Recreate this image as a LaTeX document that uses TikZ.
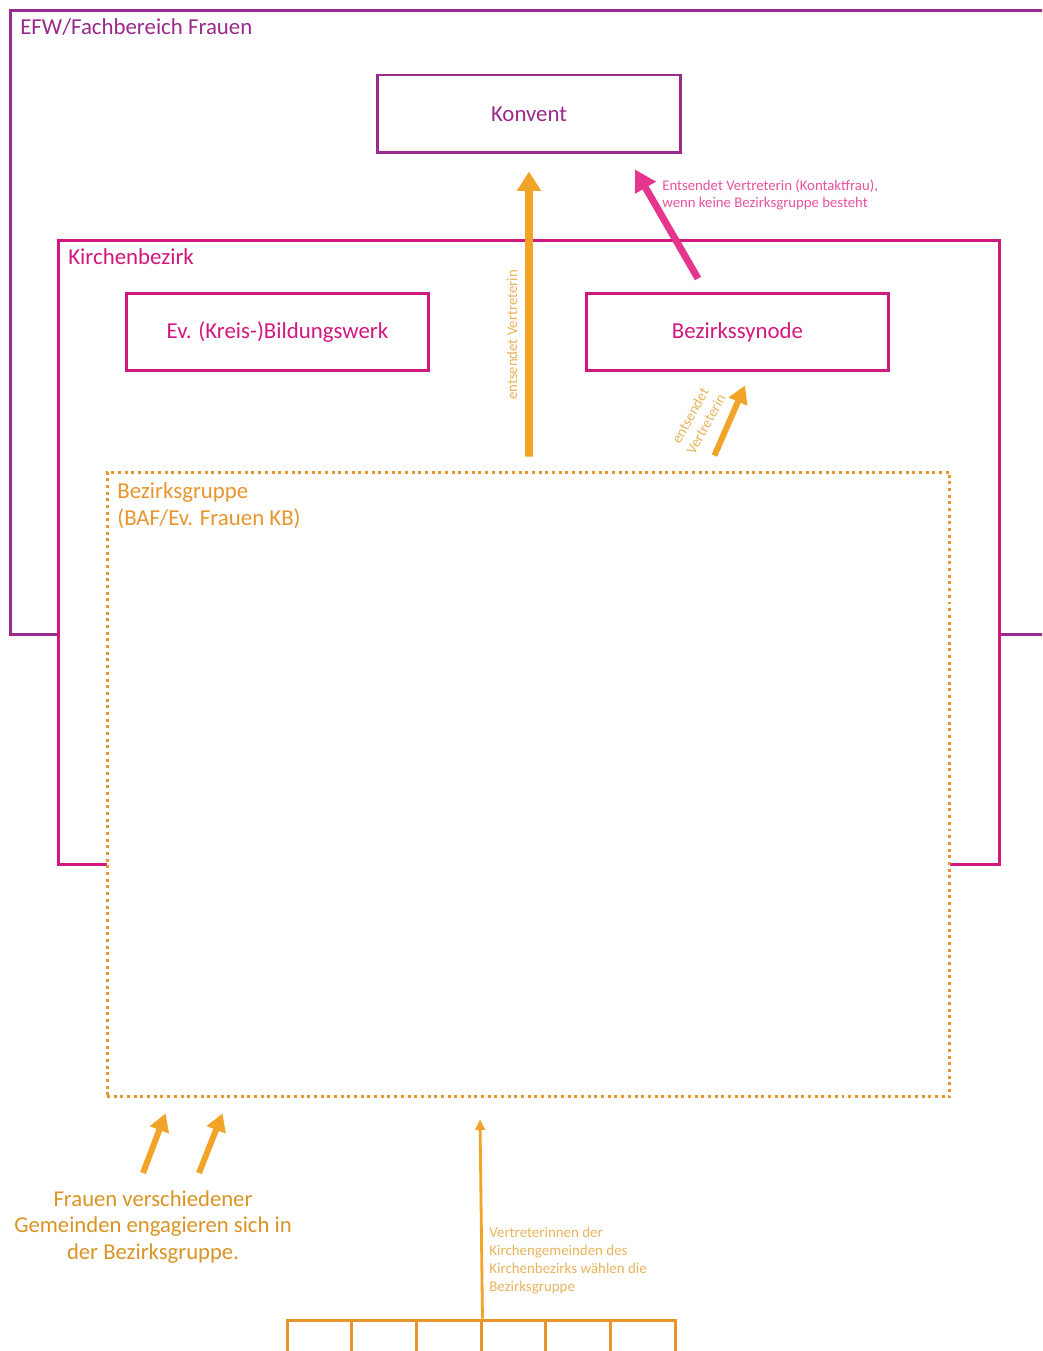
\documentclass[tikz,border=0pt]{standalone}
\usepackage{fontspec}
\setmainfont{Carlito}
\usetikzlibrary{arrows.meta,positioning,calc}
\definecolor{efwpurple}{HTML}{9A2A8C}
\definecolor{kbmagenta}{HTML}{D2177F}
\definecolor{sendpink}{HTML}{E5358C}
\definecolor{grouporange}{HTML}{E8952E}
\definecolor{arroworange}{HTML}{F2A428}
\definecolor{notetan}{HTML}{E9B45E}
\tikzset{
  frame/.style={draw, line width=1.7pt, fill=white, inner sep=0pt, minimum height=12.5cm},
  orgbox/.style={draw, line width=1.7pt, fill=white, minimum width=6.06cm,
    minimum height=1.56cm, font=\fontsize{13}{15}\selectfont},
  framelabel/.style={anchor=base west, inner sep=0pt, font=\fontsize{13}{15}\selectfont},
  note/.style={inner sep=0pt, align=left, font=\fontsize{8.4}{9.6}\selectfont},
  parish/.style={draw=grouporange, line width=1.7pt, minimum width=1.293cm, minimum height=1.6cm, inner sep=0pt},
  bigarr/.style={-{Triangle[length=11pt, width=13pt]}, line width=4.5pt, draw=arroworange},
  pinkarr/.style={-{Triangle[length=12pt, width=13pt]}, line width=4pt, draw=sendpink},
  midarr/.style={-{Triangle[length=10pt, width=11pt]}, line width=3.4pt, draw=arroworange},
  thinarr/.style={-{Triangle[length=6pt, width=5.5pt]}, line width=1.6pt, draw=arroworange}
}
\begin{document}
\begin{tikzpicture}[x=0.02cm, y=-0.02cm]
  \useasboundingbox (0,0) rectangle (1042,1351);
  \clip (0,0) rectangle (1042,1351);
  \fill[white] (0,0) rectangle (1042,1351);

  % EFW frame and Konvent
  \node[frame, draw=efwpurple, minimum width=21cm] (efw) at (535,322.5) {};
  \node[framelabel, text=efwpurple] (efwlabel) at (20,35) {EFW/Fachbereich Frauen};
  \node[orgbox, draw=efwpurple, text=efwpurple] (konvent) at (529,114) {Konvent};

  % Kirchenbezirk
  \node[frame, draw=kbmagenta, minimum width=18.84cm] (kb) at (529,552.5) {};
  \node[framelabel, text=kbmagenta] (kblabel) at (68,265) {Kirchenbezirk};
  \node[orgbox, draw=kbmagenta, text=kbmagenta] (bildung) at (277.5,332) {Ev. (Kreis-)Bildungswerk};
  \node[orgbox, draw=kbmagenta, text=kbmagenta] (synode) at (737.5,332) {Bezirkssynode};

  % Bezirksgruppe
  \node[frame, draw=grouporange, minimum width=16.86cm, dash pattern=on 1.7pt off 2.1pt] (grp) at (528.5,784.5) {};
  \node[framelabel, text=grouporange] (grplabel) at (117,498) {Bezirksgruppe};
  \node[framelabel, text=grouporange] (grplabelb) at (117,525) {(BAF/Ev. Frauen KB)};

  % Kirchengemeinden
  \foreach \i in {1,...,6}
    \node[parish] (p\i) at ({287+64.67*(\i-0.5)},1360) {};

  % connectors
  \draw[bigarr] ($(grp.north)+(0.5,-14)$) -- ($(konvent.south)+(0,17)$);
  \node[note, rotate=90, text=notetan] (sendnote) at (512,335) {entsendet Vertreterin};

  \draw[pinkarr] ($(synode.north)+(-39.5,-13)$) -- ($(konvent.south east)+(-47,15)$);
  \node[note, anchor=north west, text=sendpink!85!white] (contactnote) at (662,179)
    {Entsendet Vertreterin (Kontaktfrau),\\wenn keine Bezirksgruppe besteht};

  \draw[midarr] ($(grp.north east)+(-237,-15)$) -- ($(synode.south)+(7.5,13)$);
  \node[note, rotate=61, align=center, text=notetan, font=\fontsize{8.4}{10.2}\selectfont] (synodenote) at (698,420) {entsendet\\Vertreterin};

  \coordinate (w1) at (143,1173);
  \coordinate (w2) at (199,1173);
  \draw[midarr] (w1) -- ($(grp.south west)+(60,15)$);
  \draw[midarr] (w2) -- ($(grp.south west)+(117,15)$);
  \node[inner sep=0pt, align=center, anchor=north, text=arroworange!90!black,
    font=\fontsize{12.9}{15.3}\selectfont] (women) at (153,1190)
    {Frauen verschiedener\\Gemeinden engagieren sich in\\der Bezirksgruppe.};

  \draw[thinarr] (p3.north east) -- ($(grp.south)+(-48.5,21)$);
  \node[note, anchor=north west, text=notetan, font=\fontsize{8.5}{10.2}\selectfont] (electnote) at (489,1227)
    {Vertreterinnen der\\Kirchengemeinden des\\Kirchenbezirks wählen die\\Bezirksgruppe};
\end{tikzpicture}
\end{document}
